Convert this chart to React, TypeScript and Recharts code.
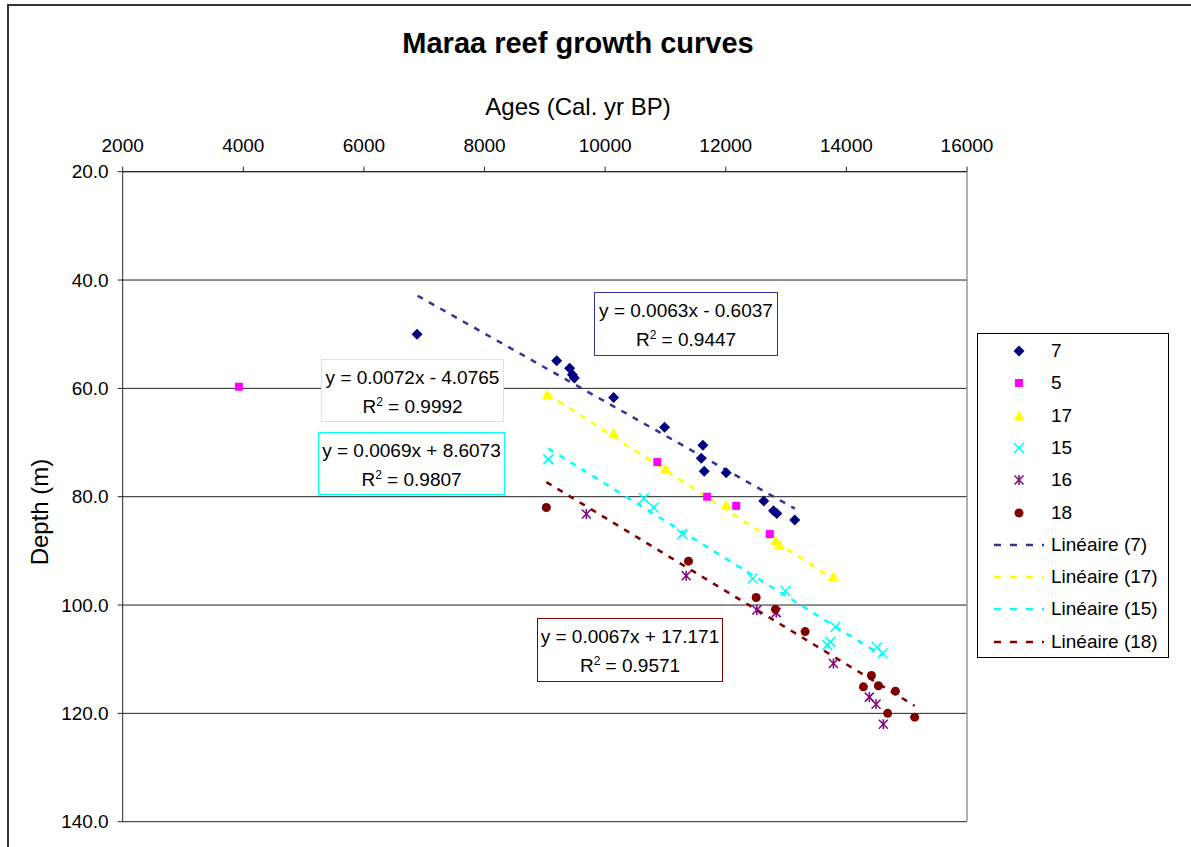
import { ScatterChart, Scatter, XAxis, YAxis, CartesianGrid, ReferenceLine } from 'recharts';

// Age (cal. yr BP) vs depth (m), one array per core
const core7 = [
  { age: 6881, depth: 50.0 },
  { age: 9196, depth: 54.9 },
  { age: 9411, depth: 56.3 },
  { age: 9456, depth: 57.5 },
  { age: 9489, depth: 58.1 },
  { age: 10140, depth: 61.7 },
  { age: 10985, depth: 67.2 },
  { age: 11620, depth: 70.5 },
  { age: 11593, depth: 72.9 },
  { age: 11643, depth: 75.3 },
  { age: 12007, depth: 75.6 },
  { age: 12630, depth: 80.8 },
  { age: 12791, depth: 82.6 },
  { age: 12846, depth: 83.1 },
  { age: 13144, depth: 84.3 },
];
const core5 = [
  { age: 3927, depth: 59.7 },
  { age: 10864, depth: 73.6 },
  { age: 11692, depth: 80.0 },
  { age: 12173, depth: 81.7 },
  { age: 12730, depth: 86.9 },
];
const core17 = [
  { age: 9041, depth: 61.2 },
  { age: 10140, depth: 68.3 },
  { age: 11002, depth: 74.9 },
  { age: 12007, depth: 81.6 },
  { age: 12830, depth: 88.2 },
  { age: 12890, depth: 88.9 },
  { age: 13785, depth: 94.8 },
];
const core15 = [
  { age: 9058, depth: 73.1 },
  { age: 10642, depth: 80.3 },
  { age: 10803, depth: 82.0 },
  { age: 11278, depth: 86.9 },
  { age: 12448, depth: 95.1 },
  { age: 12990, depth: 97.4 },
  { age: 13818, depth: 104.0 },
  { age: 13735, depth: 106.8 },
  { age: 13685, depth: 107.4 },
  { age: 14509, depth: 107.8 },
  { age: 14602, depth: 108.9 },
];
const core16 = [
  { age: 9688, depth: 83.2 },
  { age: 11344, depth: 94.6 },
  { age: 12514, depth: 100.9 },
  { age: 12836, depth: 101.4 },
  { age: 13785, depth: 110.8 },
  { age: 14381, depth: 117.0 },
  { age: 14492, depth: 118.3 },
  { age: 14613, depth: 122.0 },
];
const core18 = [
  { age: 9025, depth: 82.0 },
  { age: 11382, depth: 91.9 },
  { age: 12504, depth: 98.6 },
  { age: 12824, depth: 100.8 },
  { age: 13316, depth: 104.9 },
  { age: 14415, depth: 113.0 },
  { age: 14282, depth: 115.1 },
  { age: 14531, depth: 114.9 },
  { age: 14813, depth: 115.9 },
  { age: 14685, depth: 120.0 },
  { age: 15132, depth: 120.7 },
];

// linear trend end points as drawn
const trend7 = [{ age: 6890, depth: 42.9 }, { age: 13144, depth: 82.2 }];
const trend17 = [{ age: 9041, depth: 61.0 }, { age: 13785, depth: 95.2 }];
const trend15 = [{ age: 9058, depth: 71.1 }, { age: 14602, depth: 109.4 }];
const trend18 = [{ age: 9025, depth: 77.3 }, { age: 15132, depth: 118.6 }];

const ageTicks = [2000, 4000, 6000, 8000, 10000, 12000, 14000, 16000];
const depthTicks = [20, 40, 60, 80, 100, 120, 140];

const equations = [
  { eq: 'y = 0.0063x - 0.6037', r2: '0.9447' },
  { eq: 'y = 0.0072x - 4.0765', r2: '0.9992' },
  { eq: 'y = 0.0069x + 8.6073', r2: '0.9807' },
  { eq: 'y = 0.0067x + 17.171', r2: '0.9571' },
];

const FONT = '"Liberation Sans", Arial, sans-serif';
const C = {
  navy: '#000080',
  pink: '#FF00FF',
  yellow: '#FFFF00',
  cyan: '#00FFFF',
  purple: '#800080',
  brown: '#800000',
  trendNavy: '#333399',
};

type Kind = 'diamond' | 'square' | 'triangle' | 'cross' | 'star' | 'circle';

function Marker({ kind, cx, cy, color }: { kind: Kind; cx: number; cy: number; color: string }) {
  if (cx == null || cy == null) return <g />;
  switch (kind) {
    case 'diamond':
      return <path d={`M${cx},${cy - 5.5}L${cx + 5.5},${cy}L${cx},${cy + 5.5}L${cx - 5.5},${cy}Z`} fill={color} />;
    case 'square':
      return <rect x={cx - 4} y={cy - 4} width={8} height={8} fill={color} />;
    case 'triangle':
      return <path d={`M${cx},${cy - 5.5}L${cx + 5.5},${cy + 4.5}L${cx - 5.5},${cy + 4.5}Z`} fill={color} />;
    case 'cross':
      return (
        <g stroke={color} strokeWidth={1.6}>
          <line x1={cx - 5} y1={cy - 5} x2={cx + 5} y2={cy + 5} />
          <line x1={cx - 5} y1={cy + 5} x2={cx + 5} y2={cy - 5} />
        </g>
      );
    case 'star':
      return (
        <g stroke={color} strokeWidth={1.5}>
          <line x1={cx - 4.5} y1={cy - 4.5} x2={cx + 4.5} y2={cy + 4.5} />
          <line x1={cx - 4.5} y1={cy + 4.5} x2={cx + 4.5} y2={cy - 4.5} />
          <line x1={cx} y1={cy - 5} x2={cx} y2={cy + 5} />
        </g>
      );
    default:
      return <circle cx={cx} cy={cy} r={4.5} fill={color} />;
  }
}

const series: { name: string; data: typeof core7; kind: Kind; color: string }[] = [
  { name: '7', data: core7, kind: 'diamond', color: C.navy },
  { name: '5', data: core5, kind: 'square', color: C.pink },
  { name: '17', data: core17, kind: 'triangle', color: C.yellow },
  { name: '15', data: core15, kind: 'cross', color: C.cyan },
  { name: '16', data: core16, kind: 'star', color: C.purple },
  { name: '18', data: core18, kind: 'circle', color: C.brown },
];

const trends = [
  { name: 'Linéaire (7)', data: trend7, color: C.trendNavy },
  { name: 'Linéaire (17)', data: trend17, color: C.yellow },
  { name: 'Linéaire (15)', data: trend15, color: C.cyan },
  { name: 'Linéaire (18)', data: trend18, color: C.brown },
];

const eqBoxes = [
  { left: 594, top: 292, width: 184, height: 64, border: C.trendNavy },
  { left: 321, top: 359, width: 183, height: 63, border: C.yellow },
  { left: 318, top: 432, width: 187, height: 63, border: C.cyan },
  { left: 537, top: 618, width: 186, height: 64, border: C.brown },
];

function Legend() {
  const rows = [
    ...series.map((s) => ({ label: s.name, marker: s, line: null as string | null })),
    ...trends.map((t) => ({ label: t.name, marker: null, line: t.color })),
  ];
  return (
    <div
      style={{
        position: 'absolute',
        left: 977,
        top: 333,
        width: 192,
        height: 325,
        border: '1px solid #000',
        background: '#fff',
        boxSizing: 'border-box',
      }}
    >
      {rows.map((r, i) => (
        <div
          key={r.label}
          style={{ position: 'absolute', left: 0, top: 17 + i * 32.3 - 12, height: 24, width: 190 }}
        >
          <svg width={70} height={24} style={{ position: 'absolute', left: 0, top: 0 }}>
            {r.marker ? (
              <Marker kind={r.marker.kind} cx={41} cy={12} color={r.marker.color} />
            ) : (
              <line x1={16} y1={12} x2={66} y2={12} stroke={r.line!} strokeWidth={2.5} strokeDasharray="7 9" />
            )}
          </svg>
          <span
            style={{
              position: 'absolute',
              left: 73,
              top: 0,
              lineHeight: '24px',
              fontSize: 19,
              fontFamily: FONT,
              color: '#000',
              whiteSpace: 'nowrap',
            }}
          >
            {r.label}
          </span>
        </div>
      ))}
    </div>
  );
}

export default function App() {
  return (
    <div
      style={{
        position: 'absolute',
        left: 0,
        top: 0,
        width: 1191,
        height: 847,
        overflow: 'hidden',
        background: '#fff',
        fontFamily: FONT,
      }}
    >
      <div
        style={{
          position: 'absolute',
          left: 7,
          top: 4,
          width: 1250,
          height: 900,
          border: '2px solid #333',
        }}
      />
      <div
        style={{
          position: 'absolute',
          left: 378,
          width: 400,
          top: 25,
          textAlign: 'center',
          fontSize: 29,
          fontWeight: 'bold',
          lineHeight: '36px',
          color: '#000',
        }}
      >
        Maraa reef growth curves
      </div>
      <div
        style={{
          position: 'absolute',
          left: 428,
          width: 300,
          top: 92,
          textAlign: 'center',
          fontSize: 24,
          lineHeight: '30px',
          color: '#000',
        }}
      >
        Ages (Cal. yr BP)
      </div>
      <div
        style={{
          position: 'absolute',
          left: 40 - 100,
          top: 512 - 15,
          width: 200,
          textAlign: 'center',
          fontSize: 24,
          lineHeight: '30px',
          transform: 'rotate(-90deg)',
          color: '#000',
        }}
      >
        Depth (m)
      </div>

      <div style={{ position: 'absolute', left: 0, top: 0 }}>
        <ScatterChart width={1191} height={847} margin={{ top: 131.7, right: 224, bottom: 25.3, left: 62.7 }}>
          <CartesianGrid vertical={false} stroke="#222" strokeDasharray="" />
          <XAxis
            type="number"
            dataKey="age"
            orientation="top"
            domain={[2000, 16000]}
            ticks={ageTicks}
            height={40}
            tickSize={5}
            tickMargin={15}
            allowDataOverflow
            axisLine={{ stroke: '#222' }}
            tickLine={{ stroke: '#222' }}
            tick={{ fill: '#000', fontSize: 19, fontFamily: FONT }}
          />
          <YAxis
            type="number"
            dataKey="depth"
            reversed
            domain={[20, 140]}
            ticks={depthTicks}
            width={60}
            tickSize={5}
            tickMargin={9}
            allowDataOverflow
            axisLine={{ stroke: '#222' }}
            tickLine={{ stroke: '#222' }}
            tick={{ fill: '#000', fontSize: 19, fontFamily: FONT }}
            tickFormatter={(v: number) => v.toFixed(1)}
          />
          <ReferenceLine x={16000} stroke="#999" strokeWidth={1.5} />
          {trends.map((t) => (
            <Scatter
              key={t.name}
              name={t.name}
              data={t.data}
              line={{ stroke: t.color, strokeWidth: 2.5, strokeDasharray: '6 7' }}
              shape={() => <g />}
              isAnimationActive={false}
            />
          ))}
          {series.map((s) => (
            <Scatter
              key={s.name}
              name={s.name}
              data={s.data}
              isAnimationActive={false}
              shape={(p: any) => <Marker kind={s.kind} cx={p.cx} cy={p.cy} color={s.color} />}
            />
          ))}
        </ScatterChart>
      </div>

      {eqBoxes.map((b, i) => (
        <div
          key={i}
          style={{
            position: 'absolute',
            left: b.left,
            top: b.top,
            width: b.width,
            height: b.height,
            border: `1px solid ${b.border}`,
            boxSizing: 'border-box',
            background: '#fff',
            textAlign: 'center',
            fontSize: 19,
            color: '#000',
            lineHeight: '29px',
            paddingTop: 3,
            whiteSpace: 'nowrap',
          }}
        >
          <div>{equations[i].eq}</div>
          <div>
            R<span style={{ fontSize: 12, verticalAlign: 'top', lineHeight: '20px' }}>2</span> = {equations[i].r2}
          </div>
        </div>
      ))}

      <Legend />
    </div>
  );
}
